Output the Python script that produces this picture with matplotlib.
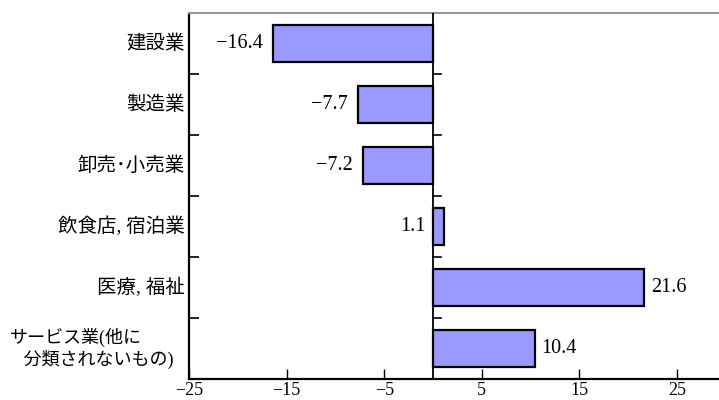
import matplotlib
matplotlib.use("Agg")
import matplotlib.pyplot as plt
import matplotlib.transforms as mtransforms
import numpy as np

categories = ["建設業", "製造業", "卸売･小売業", "飲食店, 宿泊業", "医療, 福祉",
              "サービス業(他に\n   分類されないもの)"]
values = [-16.4, -7.7, -7.2, 1.1, 21.6, 10.4]
value_labels = ["−16.4", "−7.7", "−7.2", "1.1", "21.6", "10.4"]
xticks = [-25, -15, -5, 5, 15, 25]
xtick_labels = ["−25", "−15", "−5", "5", "15", "25"]

fam = ["Liberation Serif", "Noto Sans CJK JP", "DejaVu Sans"]
plt.rcParams["font.family"] = fam

fig = plt.figure(figsize=(7.19, 4.0), dpi=100)
ax = fig.add_axes([189/719, 21/400, 1 - 189/719, 366/400])

n = len(categories)
ypos = np.arange(n)
ax.barh(ypos, values, height=0.62, color="#9999FF", edgecolor="black", linewidth=1.6, zorder=3)

ax.set_xlim(-25, 29.3)
ax.set_ylim(n - 0.5, -0.5)

# zero line
ax.axvline(0, color="black", linewidth=1.3, zorder=4)

# value labels
for i, (v, lab) in enumerate(zip(values, value_labels)):
    if v < 0:
        ax.annotate(lab, (v, i), xytext=(-7, 0), textcoords="offset points",
                    ha="right", va="center", fontsize=14.5)
    elif v < 3:
        ax.annotate(lab, (0, i), xytext=(-5, 0), textcoords="offset points",
                    ha="right", va="center", fontsize=14.5)
    else:
        ax.annotate(lab, (v, i), xytext=(5, 0), textcoords="offset points",
                    ha="left", va="center", fontsize=14.5)

# y ticks at category boundaries (no labels)
ax.set_yticks(np.arange(0.5, n - 0.5, 1.0))
ax.set_yticklabels([])
ax.tick_params(axis="y", which="major", direction="in", length=7, width=1.2, color="black")

# category labels
for i, cat in enumerate(categories):
    if "\n" in cat:
        tr = mtransforms.blended_transform_factory(fig.transFigure, ax.transData)
        ax.text(10/719, i, cat, transform=tr, ha="left", va="center",
                fontsize=13, multialignment="left", linespacing=1.15)
    else:
        ax.annotate(cat, (0, i), xycoords=("axes fraction", "data"),
                    xytext=(-3, 0), textcoords="offset points",
                    ha="right", va="center", fontsize=14)

# ticks on the zero line
for b in np.arange(0.5, n - 0.5, 1.0):
    ax.plot([0, 0.8], [b, b], color="black", linewidth=1.2, zorder=4, clip_on=False)

ax.set_xticks(xticks)
ax.set_xticklabels(xtick_labels, fontsize=13)
ax.tick_params(axis="x", direction="in", length=7, width=1.0, pad=2)

ax.spines["right"].set_visible(False)
ax.spines["top"].set_color("#999999")
ax.spines["top"].set_linewidth(1.5)
ax.spines["left"].set_linewidth(1.6)
ax.spines["bottom"].set_linewidth(1.6)

fig.savefig("out.png", dpi=100)
